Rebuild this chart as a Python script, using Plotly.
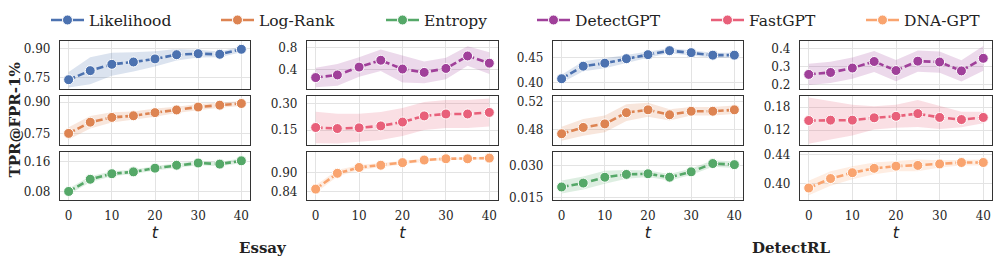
import plotly.graph_objects as go

t = [0, 5, 10, 15, 20, 25, 30, 35, 40]

methods = ["Likelihood", "Log-Rank", "Entropy", "DetectGPT", "FastGPT", "DNA-GPT"]
colors = ["#4c72b0", "#dd8452", "#55a868", "#a0409a", "#e8607a", "#f9a46f"]
fills = ["rgba(76,114,176,0.2)", "rgba(221,132,82,0.2)", "rgba(85,168,104,0.2)",
         "rgba(160,64,154,0.2)", "rgba(232,96,122,0.2)", "rgba(249,164,111,0.2)"]

# Essay
essay_mean = {
    "Likelihood": [0.740, 0.787, 0.820, 0.832, 0.848, 0.870, 0.875, 0.872, 0.898],
    "Log-Rank":   [0.750, 0.804, 0.827, 0.835, 0.850, 0.863, 0.877, 0.886, 0.894],
    "Entropy":    [0.080, 0.113, 0.128, 0.133, 0.143, 0.151, 0.157, 0.154, 0.163],
    "DetectGPT":  [0.249, 0.298, 0.443, 0.570, 0.407, 0.345, 0.418, 0.649, 0.516],
    "FastGPT":    [0.165, 0.159, 0.163, 0.174, 0.196, 0.231, 0.242, 0.242, 0.251],
    "DNA-GPT":    [0.848, 0.897, 0.915, 0.922, 0.930, 0.938, 0.942, 0.942, 0.944],
}
essay_std = {
    "Likelihood": [0.040, 0.070, 0.060, 0.050, 0.040, 0.030, 0.020, 0.015, 0.015],
    "Log-Rank":   [0.030, 0.030, 0.025, 0.020, 0.020, 0.015, 0.015, 0.012, 0.012],
    "Entropy":    [0.008, 0.008, 0.007, 0.006, 0.006, 0.006, 0.006, 0.006, 0.007],
    "DetectGPT":  [0.180, 0.200, 0.180, 0.200, 0.250, 0.200, 0.200, 0.180, 0.200],
    "FastGPT":    [0.090, 0.085, 0.080, 0.080, 0.080, 0.080, 0.080, 0.080, 0.080],
    "DNA-GPT":    [0.012, 0.010, 0.008, 0.006, 0.005, 0.005, 0.004, 0.004, 0.004],
}
# DetectRL
drl_mean = {
    "Likelihood": [0.408, 0.433, 0.439, 0.448, 0.456, 0.464, 0.460, 0.455, 0.455],
    "Log-Rank":   [0.474, 0.483, 0.488, 0.504, 0.508, 0.501, 0.506, 0.506, 0.508],
    "Entropy":    [0.0200, 0.0218, 0.0245, 0.0258, 0.0261, 0.0245, 0.0270, 0.0308, 0.0303],
    "DetectGPT":  [0.256, 0.267, 0.292, 0.329, 0.278, 0.331, 0.326, 0.276, 0.347],
    "FastGPT":    [0.145, 0.146, 0.146, 0.152, 0.156, 0.163, 0.153, 0.1475, 0.153],
    "DNA-GPT":    [0.394, 0.407, 0.415, 0.421, 0.424, 0.425, 0.427, 0.429, 0.429],
}
drl_std = {
    "Likelihood": [0.008, 0.010, 0.010, 0.008, 0.006, 0.005, 0.005, 0.005, 0.005],
    "Log-Rank":   [0.010, 0.012, 0.012, 0.012, 0.010, 0.008, 0.006, 0.006, 0.006],
    "Entropy":    [0.0030, 0.0030, 0.0030, 0.0020, 0.0015, 0.0015, 0.0015, 0.0015, 0.0015],
    "DetectGPT":  [0.060, 0.060, 0.060, 0.060, 0.060, 0.060, 0.060, 0.060, 0.070],
    "FastGPT":    [0.060, 0.050, 0.040, 0.030, 0.030, 0.035, 0.030, 0.020, 0.015],
    "DNA-GPT":    [0.010, 0.010, 0.009, 0.008, 0.007, 0.008, 0.005, 0.004, 0.004],
}

y_ticks = {
    ("Essay", "Likelihood"): ([0.75, 0.90], ["0.75", "0.90"], [0.693, 0.943]),
    ("Essay", "Log-Rank"): ([0.75, 0.90], ["0.75", "0.90"], [0.696, 0.928]),
    ("Essay", "Entropy"): ([0.08, 0.16], ["0.08", "0.16"], [0.0557, 0.186]),
    ("Essay", "DetectGPT"): ([0.4, 0.8], ["0.4", "0.8"], [0.042, 0.933]),
    ("Essay", "FastGPT"): ([0.15, 0.30], ["0.15", "0.30"], [0.0675, 0.342]),
    ("Essay", "DNA-GPT"): ([0.84, 0.90], ["0.84", "0.90"], [0.813, 0.962]),
    ("DetectRL", "Likelihood"): ([0.40, 0.45], ["0.40", "0.45"], [0.388, 0.484]),
    ("DetectRL", "Log-Rank"): ([0.48, 0.52], ["0.48", "0.52"], [0.4586, 0.527]),
    ("DetectRL", "Entropy"): ([0.015, 0.030], ["0.015", "0.030"], [0.0138, 0.036]),
    ("DetectRL", "DetectGPT"): ([0.2, 0.3, 0.4], ["0.2", "0.3", "0.4"], [0.175, 0.447]),
    ("DetectRL", "FastGPT"): ([0.12, 0.18], ["0.12", "0.18"], [0.0825, 0.2075]),
    ("DetectRL", "DNA-GPT"): ([0.40, 0.44], ["0.40", "0.44"], [0.377, 0.443]),
}

W, H = 997, 268
col_px = [(60, 250), (307, 498), (553, 743), (800, 992)]
row_px = [(37, 87), (95, 145), (153, 203)]

SERIF = "DejaVu Serif"
fig = go.Figure()
layout_axes = {}

panels = []
for c in range(4):
    dataset = "Essay" if c < 2 else "DetectRL"
    for r in range(3):
        m = methods[r + 3 * (c % 2)]
        panels.append((c, r, dataset, m))

for idx, (c, r, dataset, m) in enumerate(panels):
    k = idx + 1
    xa = "x" if k == 1 else f"x{k}"
    ya = "y" if k == 1 else f"y{k}"
    mi = methods.index(m)
    mean = essay_mean[m] if dataset == "Essay" else drl_mean[m]
    std = essay_std[m] if dataset == "Essay" else drl_std[m]
    upper = [a + b for a, b in zip(mean, std)]
    lower = [a - b for a, b in zip(mean, std)]
    fig.add_trace(go.Scatter(
        x=t + t[::-1], y=upper + lower[::-1], fill="toself",
        fillcolor=fills[mi], line=dict(width=0), mode="lines",
        hoverinfo="skip", showlegend=False, xaxis=xa, yaxis=ya))
    fig.add_trace(go.Scatter(
        x=t, y=mean, mode="lines+markers", name=m,
        line=dict(color=colors[mi], width=2.6, dash="7px,3px"),
        marker=dict(size=10, color=colors[mi], line=dict(color="white", width=1)),
        showlegend=False, xaxis=xa, yaxis=ya))

    x0, x1 = col_px[c]
    y0, y1 = row_px[r]
    tv, tt, yr = y_ticks[(dataset, m)]
    axcommon = dict(showline=True, mirror=True, linecolor="#333333", linewidth=1.3,
                    gridcolor="#e3e3e3", gridwidth=1, zeroline=False, ticks="",
                    tickfont=dict(family=SERIF, size=12, color="#262626"))
    xkey = "xaxis" if k == 1 else f"xaxis{k}"
    ykey = "yaxis" if k == 1 else f"yaxis{k}"
    xd = dict(domain=[x0 / W, x1 / W], anchor=ya, range=[-2, 42],
              tickvals=[0, 10, 20, 30, 40], showticklabels=(r == 2),
              ticklabelstandoff=4, **axcommon)
    if r == 2:
        xd["title"] = dict(text="<i>t</i>", font=dict(family="DejaVu Sans", size=16, color="#222"),
                           standoff=4)
    layout_axes[xkey] = xd
    layout_axes[ykey] = dict(domain=[1 - y1 / H, 1 - y0 / H], anchor=xa, range=yr,
                             tickvals=tv, ticktext=tt, ticklabelstandoff=6, **axcommon)

# legend-only entries (solid line with marker, as in the reference legend)
legend_x_px = [47, 217, 382, 533, 707, 862]
legends = {}
for i, m in enumerate(methods):
    key = "legend" if i == 0 else f"legend{i + 1}"
    fig.add_trace(go.Scatter(
        x=[None], y=[None], mode="lines+markers", name=m,
        line=dict(color=colors[i], width=2.6),
        marker=dict(size=10, color=colors[i], line=dict(color="white", width=1)),
        showlegend=True, legend=key, xaxis="x", yaxis="y"))
    legends[key] = dict(x=(legend_x_px[i] - 1) / W, xanchor="left", y=1 - 16 / H,
                        yanchor="middle", orientation="h", bgcolor="rgba(0,0,0,0)",
                        font=dict(family=SERIF, size=15.5, color="#222"),
                        itemwidth=33, borderwidth=0)

fig.update_layout(
    width=W, height=H, margin=dict(l=0, r=0, t=0, b=0),
    plot_bgcolor="white", paper_bgcolor="white",
    **layout_axes, **legends,
    annotations=[
        dict(text="<b>TPR@FPR-1%</b>", x=15 / W, y=1 - 120 / H, xref="paper", yref="paper",
             xanchor="center", yanchor="middle",
             textangle=-90, showarrow=False, font=dict(family=SERIF, size=15, color="#222")),
        dict(text="<b>Essay</b>", x=263 / W, y=1 - 252 / H, xref="paper", yref="paper",
             xanchor="center", yanchor="middle",
             showarrow=False, font=dict(family=SERIF, size=15, color="#222")),
        dict(text="<b>DetectRL</b>", x=791 / W, y=1 - 252 / H, xref="paper", yref="paper",
             xanchor="center", yanchor="middle",
             showarrow=False, font=dict(family=SERIF, size=15, color="#222")),
    ],
)

fig.write_html("out.html", config={"displayModeBar": False},
               post_script="document.body.style.margin='0';document.body.style.overflow='hidden';")
